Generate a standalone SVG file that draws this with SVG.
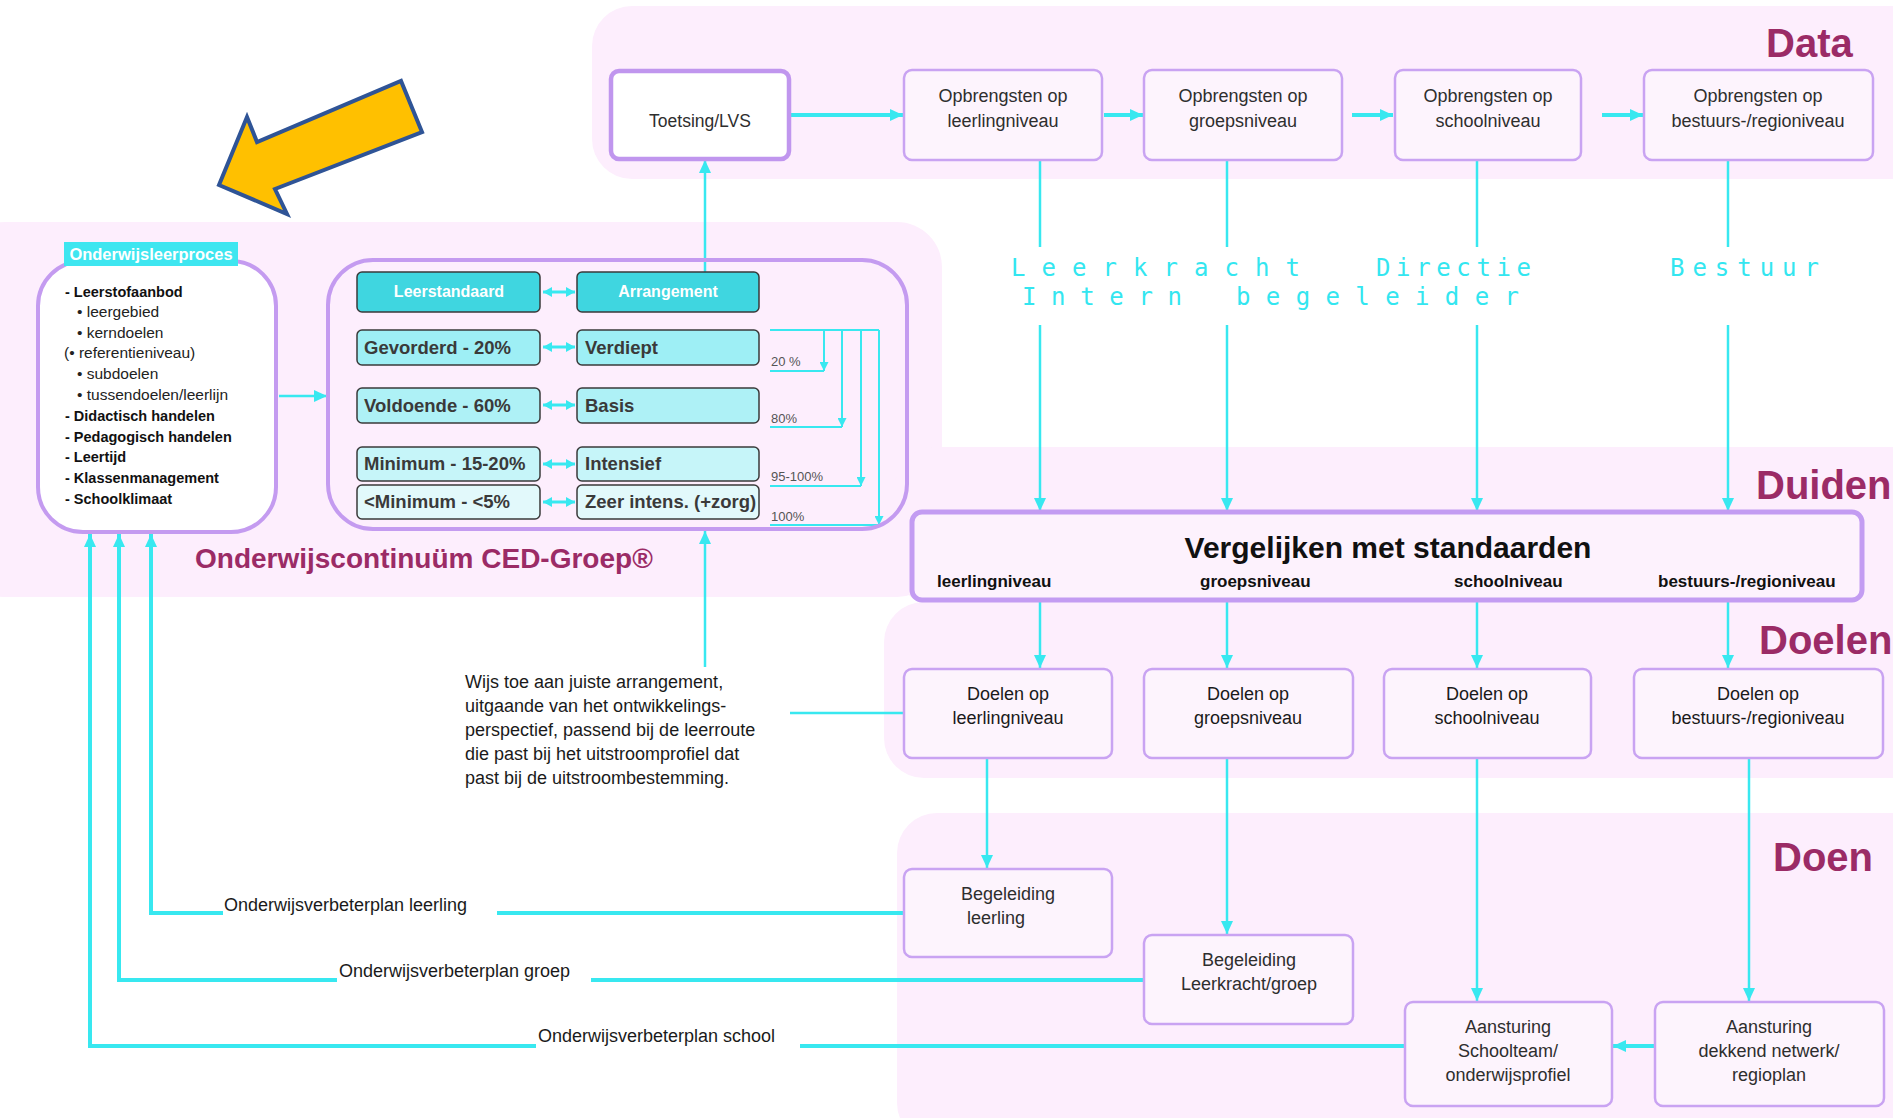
<svg xmlns="http://www.w3.org/2000/svg" width="1893" height="1118" viewBox="0 0 1893 1118">
<defs>
<style>
.band{fill:#fdeefd}
.node{fill:#fdf4fd;stroke:#c9a3f2;stroke-width:2.5}
.big{fill:none;stroke:#c49bf0;stroke-width:4}
.t{font-family:"Liberation Sans",Arial,sans-serif;fill:#2e2e2e;font-size:18px}
.tc{text-anchor:middle}
.b{font-weight:bold}
.sec{font-family:"Liberation Sans",Arial,sans-serif;font-weight:bold;font-size:40px;fill:#9b2b66}
.role{font-family:"DejaVu Sans Mono",monospace;font-size:24px;fill:#33e6f0}
.c{fill:none;stroke:#38e8f0;stroke-width:2.5}
.cw{fill:none;stroke:#38e8f0;stroke-width:4}
.cs{fill:none;stroke:#38e8f0;stroke-width:2}
.hdr{fill:#3fd6e0;stroke:#3a3a3a;stroke-width:1.5}
.tb{font-family:"Liberation Sans",Arial,sans-serif;font-weight:bold;font-size:18.5px;fill:#3a3a3a}
.pct{font-family:"Liberation Sans",Arial,sans-serif;font-size:13px;fill:#555555}
.li{font-family:"Liberation Sans",Arial,sans-serif;font-size:15.5px;fill:#222222}
.lb{font-family:"Liberation Sans",Arial,sans-serif;font-size:14.5px;font-weight:bold;fill:#111111}
</style>
<marker id="a" markerUnits="userSpaceOnUse" markerWidth="13" markerHeight="12" viewBox="0 0 13 12" refX="13" refY="6" orient="auto"><path d="M0,0 L13,6 L0,12 z" fill="#38e8f0"/></marker>
<marker id="s" markerUnits="userSpaceOnUse" markerWidth="9" markerHeight="9" viewBox="0 0 9 9" refX="9" refY="4.5" orient="auto"><path d="M0,0 L9,4.5 L0,9 z" fill="#38e8f0"/></marker>
<marker id="d" markerUnits="userSpaceOnUse" markerWidth="9" markerHeight="10" viewBox="0 0 9 10" refX="9" refY="5" orient="auto-start-reverse"><path d="M0,0 L9,5 L0,10 z" fill="#38e8f0"/></marker>
</defs>
<rect width="1893" height="1118" fill="#ffffff"/>
<g id="backgrounds">
<rect class="band" x="592" y="6" width="1340" height="173" rx="40"/>
<rect class="band" x="-40" y="222" width="982" height="375" rx="45"/>
<rect class="band" x="895" y="447" width="1040" height="158" rx="40"/>
<rect class="band" x="884" y="602" width="1050" height="176" rx="40"/>
<rect class="band" x="897" y="813" width="1040" height="330" rx="40"/>
</g>
<g id="pointer">
<polygon points="219,185 247,117 257,142 401,81 422,132 275,189 287,214" fill="#ffc000" stroke="#2f5496" stroke-width="4" stroke-linejoin="miter"/>
</g>
<g id="connectors">
<path class="cw" d="M789,115 H903" marker-end="url(#a)"/>
<path class="cw" d="M1104,115 H1143" marker-end="url(#a)"/>
<path class="cw" d="M1352,115 H1393" marker-end="url(#a)"/>
<path class="cw" d="M1602,115 H1643" marker-end="url(#a)"/>
<path class="c" d="M1040,160 V247"/>
<path class="c" d="M1227,160 V247"/>
<path class="c" d="M1477,160 V247"/>
<path class="c" d="M1728,160 V247"/>
<path class="c" d="M1040,325 V511" marker-end="url(#a)"/>
<path class="c" d="M1227,325 V511" marker-end="url(#a)"/>
<path class="c" d="M1477,325 V511" marker-end="url(#a)"/>
<path class="c" d="M1728,325 V511" marker-end="url(#a)"/>
<path class="c" d="M1040,600 V668" marker-end="url(#a)"/>
<path class="c" d="M1227,600 V668" marker-end="url(#a)"/>
<path class="c" d="M1477,600 V668" marker-end="url(#a)"/>
<path class="c" d="M1728,600 V668" marker-end="url(#a)"/>
<path class="c" d="M987,758 V868" marker-end="url(#a)"/>
<path class="c" d="M1227,758 V934" marker-end="url(#a)"/>
<path class="c" d="M1477,758 V1001" marker-end="url(#a)"/>
<path class="c" d="M1749,758 V1001" marker-end="url(#a)"/>
<path class="cw" d="M1655,1046 H1613" marker-end="url(#a)"/>
<path class="cw" d="M904,913 H497"/>
<path class="cw" d="M223,913 H151 V534" marker-end="url(#a)"/>
<path class="cw" d="M1144,980 H591"/>
<path class="cw" d="M337,980 H119 V534" marker-end="url(#a)"/>
<path class="cw" d="M1405,1046 H800"/>
<path class="cw" d="M536,1046 H90 V534" marker-end="url(#a)"/>
<path class="c" d="M790,713 H904"/>
<path class="c" d="M705,667 V531" marker-end="url(#a)"/>
<path class="c" d="M705,272 V160" marker-end="url(#a)"/>
<path class="c" d="M279,396 H327" marker-end="url(#a)"/>
<path class="cs" d="M770,330 H879"/>
<path class="cs" d="M824,330 V371" marker-end="url(#s)"/>
<path class="cs" d="M842,330 V427" marker-end="url(#s)"/>
<path class="cs" d="M861,330 V486" marker-end="url(#s)"/>
<path class="cs" d="M879,330 V525" marker-end="url(#s)"/>
<path class="cs" d="M770,371 H824"/>
<path class="cs" d="M770,427 H842"/>
<path class="cs" d="M770,486 H861"/>
<path class="cs" d="M770,525 H879"/>
<path class="c" style="stroke-width:3" d="M543,292 H575" marker-start="url(#d)" marker-end="url(#d)"/>
<path class="c" style="stroke-width:3" d="M543,347 H575" marker-start="url(#d)" marker-end="url(#d)"/>
<path class="c" style="stroke-width:3" d="M543,405 H575" marker-start="url(#d)" marker-end="url(#d)"/>
<path class="c" style="stroke-width:3" d="M543,464 H575" marker-start="url(#d)" marker-end="url(#d)"/>
<path class="c" style="stroke-width:3" d="M543,502 H575" marker-start="url(#d)" marker-end="url(#d)"/>
</g>
<g id="section-labels">
<text class="sec" x="1766" y="57">Data</text>
<text class="sec" x="1756" y="499">Duiden</text>
<text class="sec" x="1759" y="654">Doelen</text>
<text class="sec" x="1773" y="871">Doen</text>
</g>
<g id="role-labels">
<text class="role" x="1011" y="276" textLength="289" lengthAdjust="spacing">L e e r k r a c h t</text>
<text class="role" x="1376" y="276" textLength="155" lengthAdjust="spacing">D i r e c t i e</text>
<text class="role" x="1670" y="276" textLength="149" lengthAdjust="spacing">B e s t u u r</text>
<text class="role" x="1022" y="305" textLength="160" lengthAdjust="spacing">I n t e r n</text>
<text class="role" x="1236" y="305" textLength="283" lengthAdjust="spacing">b e g e l e i d e r</text>
</g>
<g id="toetsing">
<rect x="611" y="71" width="178" height="88" rx="8" fill="#ffffff" stroke="#c096ee" stroke-width="4.5"/>
<text class="t tc" x="700" y="127" style="font-size:17.5px">Toetsing/LVS</text>
</g>
<g id="opbrengsten-leerling">
<rect class="node" x="904" y="70" width="198" height="90" rx="8"/>
<text class="t tc" x="1003" y="102">Opbrengsten op</text>
<text class="t tc" x="1003" y="127">leerlingniveau</text>
</g>
<g id="opbrengsten-groep">
<rect class="node" x="1144" y="70" width="198" height="90" rx="8"/>
<text class="t tc" x="1243" y="102">Opbrengsten op</text>
<text class="t tc" x="1243" y="127">groepsniveau</text>
</g>
<g id="opbrengsten-school">
<rect class="node" x="1395" y="70" width="186" height="90" rx="8"/>
<text class="t tc" x="1488" y="102">Opbrengsten op</text>
<text class="t tc" x="1488" y="127">schoolniveau</text>
</g>
<g id="opbrengsten-bestuur">
<rect class="node" x="1644" y="70" width="229" height="90" rx="8"/>
<text class="t tc" x="1758" y="102">Opbrengsten op</text>
<text class="t tc" x="1758" y="127">bestuurs-/regioniveau</text>
</g>
<g id="vergelijken">
<rect x="912" y="512" width="950" height="88" rx="10" fill="#fdf2fd" stroke="#c39cf2" stroke-width="5"/>
<text class="t tc b" x="1388" y="558" style="font-size:30px;fill:#111111">Vergelijken met standaarden</text>
<text class="t b" x="937" y="587" style="font-size:17px;fill:#111111">leerlingniveau</text>
<text class="t b" x="1200" y="587" style="font-size:17px;fill:#111111">groepsniveau</text>
<text class="t b" x="1454" y="587" style="font-size:17px;fill:#111111">schoolniveau</text>
<text class="t b" x="1658" y="587" style="font-size:17px;fill:#111111">bestuurs-/regioniveau</text>
</g>
<g id="doelen-leerling">
<rect class="node" x="904" y="669" width="208" height="89" rx="8"/>
<text class="t tc" x="1008" y="700" style="fill:#1a1a1a">Doelen op</text>
<text class="t tc" x="1008" y="724" style="fill:#1a1a1a">leerlingniveau</text>
</g>
<g id="doelen-groep">
<rect class="node" x="1144" y="669" width="209" height="89" rx="8"/>
<text class="t tc" x="1248" y="700" style="fill:#1a1a1a">Doelen op</text>
<text class="t tc" x="1248" y="724" style="fill:#1a1a1a">groepsniveau</text>
</g>
<g id="doelen-school">
<rect class="node" x="1384" y="669" width="207" height="89" rx="8"/>
<text class="t tc" x="1487" y="700" style="fill:#1a1a1a">Doelen op</text>
<text class="t tc" x="1487" y="724" style="fill:#1a1a1a">schoolniveau</text>
</g>
<g id="doelen-bestuur">
<rect class="node" x="1634" y="669" width="249" height="89" rx="8"/>
<text class="t tc" x="1758" y="700" style="fill:#1a1a1a">Doelen op</text>
<text class="t tc" x="1758" y="724" style="fill:#1a1a1a">bestuurs-/regioniveau</text>
</g>
<g id="begeleiding-leerling">
<rect class="node" x="904" y="869" width="208" height="88" rx="8"/>
<text class="t tc" x="1008" y="900">Begeleiding</text>
<text class="t tc" x="996" y="924">leerling</text>
</g>
<g id="begeleiding-groep">
<rect class="node" x="1144" y="935" width="209" height="89" rx="8"/>
<text class="t tc" x="1249" y="966">Begeleiding</text>
<text class="t tc" x="1249" y="990">Leerkracht/groep</text>
</g>
<g id="aansturing-school">
<rect class="node" x="1405" y="1002" width="207" height="104" rx="8"/>
<text class="t tc" x="1508" y="1033">Aansturing</text>
<text class="t tc" x="1508" y="1057">Schoolteam/</text>
<text class="t tc" x="1508" y="1081">onderwijsprofiel</text>
</g>
<g id="aansturing-netwerk">
<rect class="node" x="1655" y="1002" width="229" height="104" rx="8"/>
<text class="t tc" x="1769" y="1033">Aansturing</text>
<text class="t tc" x="1769" y="1057">dekkend netwerk/</text>
<text class="t tc" x="1769" y="1081">regioplan</text>
</g>
<g id="onderwijsleerproces">
<rect x="38" y="261" width="238" height="271" rx="45" fill="#ffffff" stroke="#c49bf0" stroke-width="4"/>
<rect x="64" y="242" width="174" height="24" fill="#3ee6f0"/>
<text class="t tc b" x="151" y="260" style="font-size:16.5px;fill:#ffffff">Onderwijsleerproces</text>
<text class="lb" x="65" y="297">- Leerstofaanbod</text>
<text class="li" x="77" y="317">• leergebied</text>
<text class="li" x="77" y="338">• kerndoelen</text>
<text class="li" x="64" y="358">(• referentieniveau)</text>
<text class="li" x="77" y="379">• subdoelen</text>
<text class="li" x="77" y="400">• tussendoelen/leerlijn</text>
<text class="lb" x="65" y="421">- Didactisch handelen</text>
<text class="lb" x="65" y="442">- Pedagogisch handelen</text>
<text class="lb" x="65" y="462">- Leertijd</text>
<text class="lb" x="65" y="483">- Klassenmanagement</text>
<text class="lb" x="65" y="504">- Schoolklimaat</text>
</g>
<g id="onderwijscontinuum">
<rect class="big" x="328" y="260" width="579" height="269" rx="45"/>
<rect class="hdr" x="357" y="272" width="183" height="40" rx="5"/>
<rect class="hdr" x="577" y="272" width="182" height="40" rx="5"/>
<text class="t tc b" x="449" y="297" style="font-size:16px;fill:#ffffff">Leerstandaard</text>
<text class="t tc b" x="668" y="297" style="font-size:16px;fill:#ffffff">Arrangement</text>
<rect x="357" y="330" width="183" height="35" rx="5" fill="#9eeff5" stroke="#3a3a3a" stroke-width="1.5"/>
<rect x="577" y="330" width="182" height="35" rx="5" fill="#9eeff5" stroke="#3a3a3a" stroke-width="1.5"/>
<text class="tb" x="364" y="354">Gevorderd - 20%</text>
<text class="tb" x="585" y="354">Verdiept</text>
<rect x="357" y="388" width="183" height="35" rx="5" fill="#aef1f6" stroke="#3a3a3a" stroke-width="1.5"/>
<rect x="577" y="388" width="182" height="35" rx="5" fill="#aef1f6" stroke="#3a3a3a" stroke-width="1.5"/>
<text class="tb" x="364" y="412">Voldoende - 60%</text>
<text class="tb" x="585" y="412">Basis</text>
<rect x="357" y="447" width="183" height="34" rx="5" fill="#c6f5f9" stroke="#3a3a3a" stroke-width="1.5"/>
<rect x="577" y="447" width="182" height="34" rx="5" fill="#c6f5f9" stroke="#3a3a3a" stroke-width="1.5"/>
<text class="tb" x="364" y="470">Minimum - 15-20%</text>
<text class="tb" x="585" y="470">Intensief</text>
<rect x="357" y="485" width="183" height="34" rx="5" fill="#e2f9fb" stroke="#3a3a3a" stroke-width="1.5"/>
<rect x="577" y="485" width="182" height="34" rx="5" fill="#e2f9fb" stroke="#3a3a3a" stroke-width="1.5"/>
<text class="tb" x="364" y="508">&lt;Minimum - &lt;5%</text>
<text class="tb" x="585" y="508">Zeer intens. (+zorg)</text>
<text class="pct" x="771" y="366">20 %</text>
<text class="pct" x="771" y="423">80%</text>
<text class="pct" x="771" y="481">95-100%</text>
<text class="pct" x="771" y="521">100%</text>
<text class="t b" x="195" y="568" style="font-size:28px;fill:#9b2b66">Onderwijscontinuüm CED-Groep®</text>
</g>
<g id="annotations">
<text class="t" x="465" y="688" style="fill:#1a1a1a">Wijs toe aan juiste arrangement,</text>
<text class="t" x="465" y="712" style="fill:#1a1a1a">uitgaande van het ontwikkelings-</text>
<text class="t" x="465" y="736" style="fill:#1a1a1a">perspectief, passend bij de leerroute</text>
<text class="t" x="465" y="760" style="fill:#1a1a1a">die past bij het uitstroomprofiel dat</text>
<text class="t" x="465" y="784" style="fill:#1a1a1a">past bij de uitstroombestemming.</text>
<text class="t" x="224" y="911" style="fill:#1a1a1a">Onderwijsverbeterplan leerling</text>
<text class="t" x="339" y="977" style="fill:#1a1a1a">Onderwijsverbeterplan groep</text>
<text class="t" x="538" y="1042" style="fill:#1a1a1a">Onderwijsverbeterplan school</text>
</g>
</svg>
